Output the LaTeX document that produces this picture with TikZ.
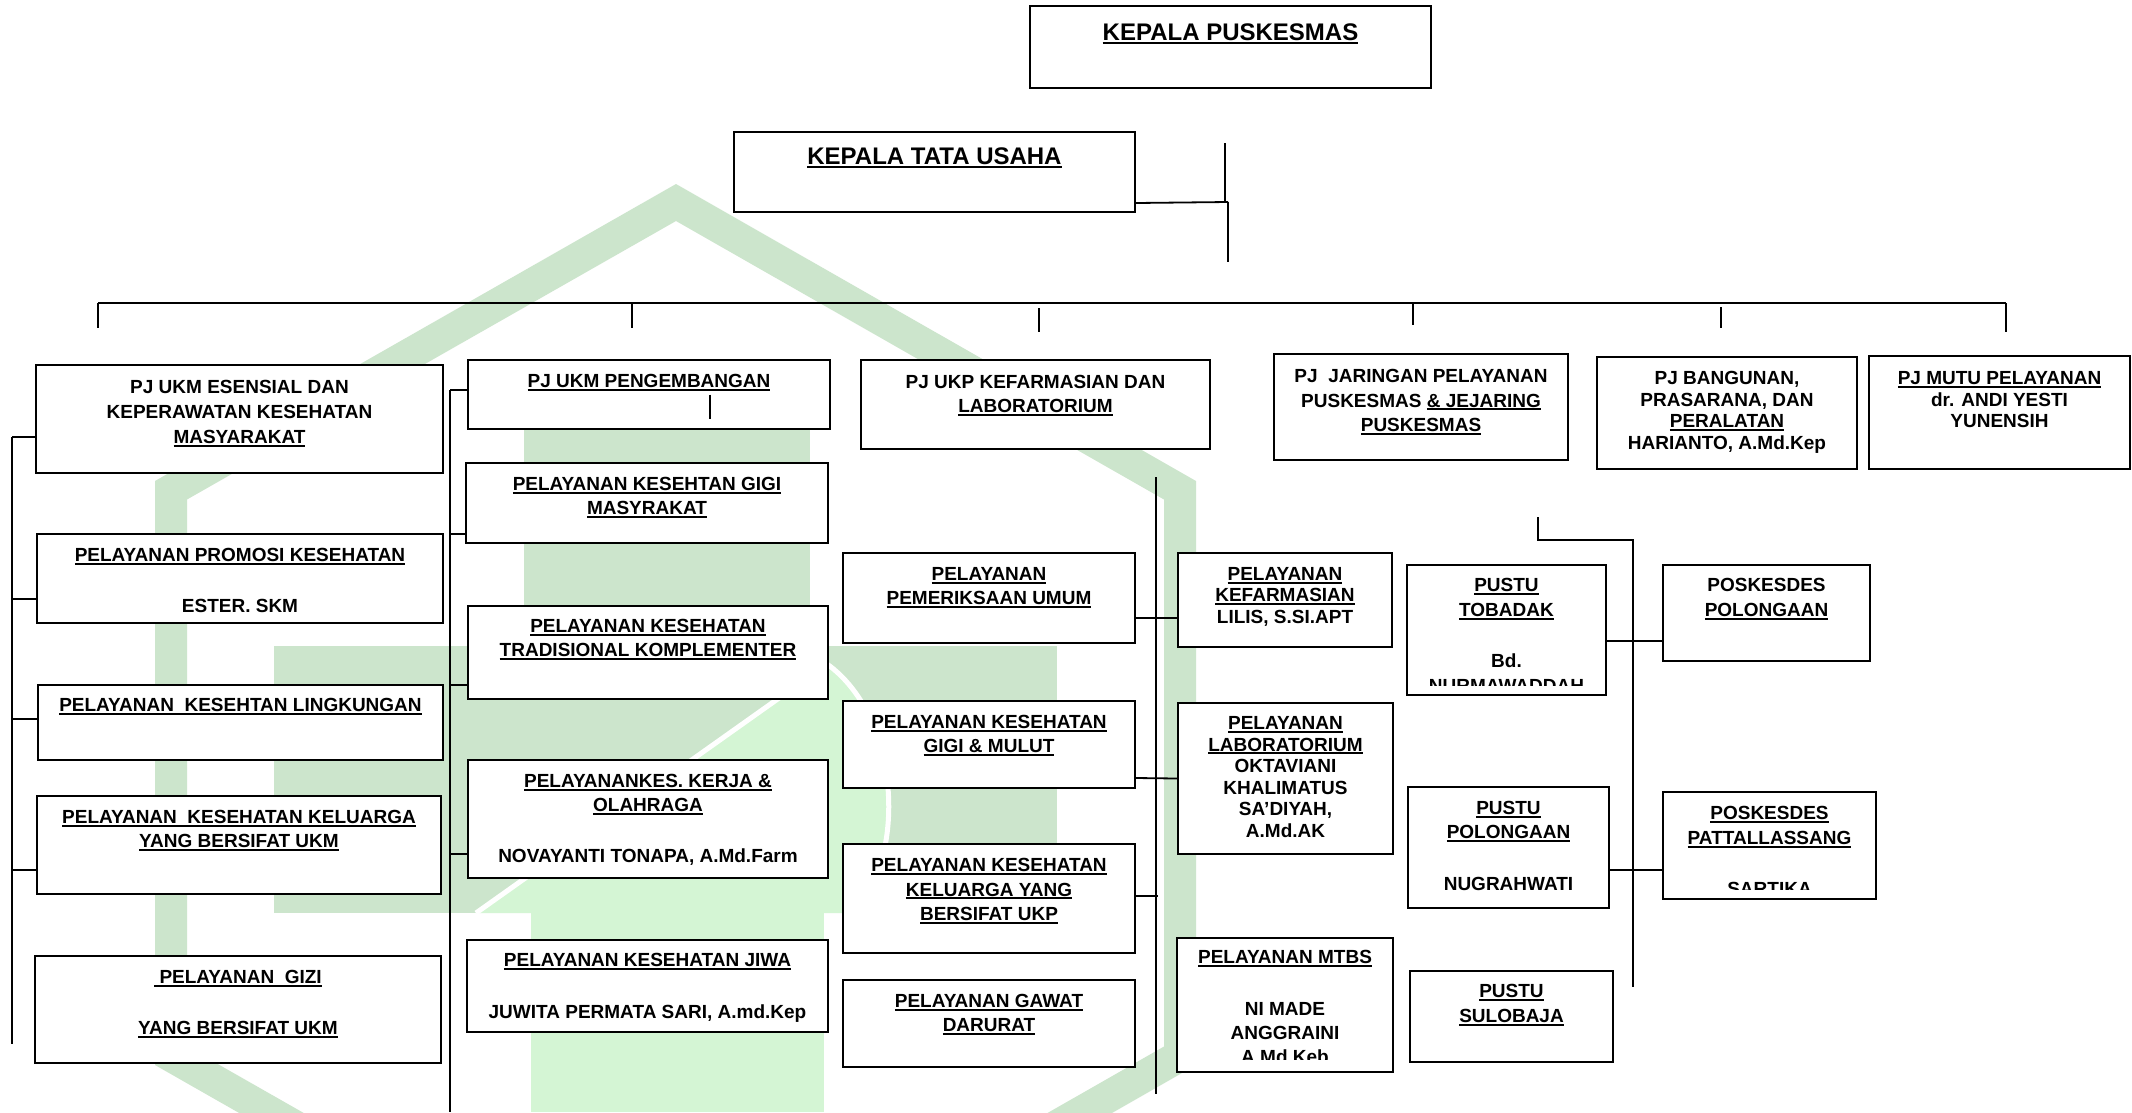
\documentclass[tikz,border=0pt]{standalone}
\usepackage{fontspec}
\setmainfont{Liberation Sans}
\usetikzlibrary{calc}

\definecolor{wmdark}{RGB}{204,229,204}
\definecolor{wmlight}{RGB}{212,245,212}

% underlined text with a fixed rule position
\newsavebox\ulbox
\newcommand\ulx[1]{\sbox\ulbox{#1}\rlap{\rule[-3.2pt]{\wd\ulbox}{2pt}}\usebox\ulbox}
\newcommand\ulT[1]{\sbox\ulbox{#1}\rlap{\rule[-4pt]{\wd\ulbox}{2.6pt}}\usebox\ulbox}

\tikzset{
  orgbox/.style={draw=black, fill=white, line width=2pt, inner sep=0pt, anchor=north west},
  lbl/.style={font=\bfseries\fontsize{19}{#1}\selectfont, align=center, inner sep=0pt,
              anchor=north, yshift=6.8pt},
  lbl/.default=24,
  title/.style={font=\bfseries\fontsize{24}{28}\selectfont, inner sep=0pt, anchor=north, yshift=8.6pt},
  wire/.style={line width=1.8pt, black},
}

% box from (x1,y1) to (x2,y2), y growing downwards
\newcommand\boxat[5]{\node[orgbox, minimum width={(#4)-(#2)}, minimum height={(#5)-(#3)}] (#1) at (#2,#3) {};}
% text block of a box, first line centred at height #3
\newcommand\boxtext[4][24]{\node[lbl=#1] (#2-t) at (#2.north |- 0,#3) {#4};}

\begin{document}
\begin{tikzpicture}[x=1pt,y=-1pt]
\useasboundingbox (0,0) rectangle (2132,1112);
\fill[white] (0,0) rectangle (2132,1112);

% ---- logo watermark ----
\begin{scope}
\clip (0,0) rectangle (2132,1112);
\fill[wmdark, even odd rule]
  (676,184) -- (1196,481) -- (1196,1065) -- (676,1362) -- (155,1065) -- (155,481) -- cycle
  (676,221) -- (1164,499.5) -- (1164,1046.5) -- (676,1325) -- (187,1046.5) -- (187,499.5) -- cycle;
\fill[wmdark] (524,380) rectangle (810,646);
\fill[wmdark] (274,646) rectangle (1057,913);
\fill[wmlight] (531,913) rectangle (824,1112);
\fill[wmlight] (476,913) -- (827,664) .. controls (905,720) and (905,870) .. (850,913) -- cycle;
\draw[white, line width=5pt] (476,913) -- (827,664) .. controls (905,720) and (905,870) .. (850,913);
\end{scope}

% ---- top ----
\boxat{kapus}{1029}{5}{1430}{87}
\node[title] (kapus-t) at (kapus.north |- 0,32) {\ulT{KEPALA PUSKESMAS}};
\boxat{ktu}{733}{131}{1134}{211}
\node[title] (ktu-t) at (ktu.north |- 0,156) {\ulT{KEPALA TATA USAHA}};

% ---- second level ----
\boxat{esensial}{35}{364}{442}{472}
\boxtext[25]{esensial}{387}{PJ UKM ESENSIAL DAN\\KEPERAWATAN KESEHATAN\\\ulx{MASYARAKAT}}
\boxat{pengembangan}{467}{359}{829}{428}
\boxtext{pengembangan}{381}{\ulx{PJ UKM PENGEMBANGAN}}
\boxat{ukp}{860}{359}{1209}{448}
\boxtext{ukp}{382}{PJ UKP KEFARMASIAN DAN\\\ulx{LABORATORIUM}}
\boxat{jaringan}{1273}{353}{1567}{459}
\boxtext[24.5]{jaringan}{376}{PJ\ \ JARINGAN PELAYANAN\\PUSKESMAS \ulx{\& JEJARING}\\\ulx{PUSKESMAS}}
\boxat{bangunan}{1596}{356}{1856}{468}
\boxtext[21.6]{bangunan}{378}{PJ BANGUNAN,\\PRASARANA, DAN\\\ulx{PERALATAN}\\HARIANTO, A.Md.Kep}
\boxat{mutu}{1868}{355}{2129}{468}
\boxtext[21.6]{mutu}{378}{\ulx{PJ MUTU PELAYANAN}\\dr. ANDI YESTI\\YUNENSIH}

% ---- UKM esensial column ----
\boxat{promosi}{36}{533}{442}{622}
\boxtext{promosi}{555}{\ulx{PELAYANAN PROMOSI KESEHATAN}\\[27pt]ESTER. SKM}
\boxat{lingkungan}{37}{684}{442}{759}
\boxtext{lingkungan}{705}{\ulx{PELAYANAN\ \ KESEHTAN LINGKUNGAN}}
\boxat{keluarga}{36}{795}{440}{893}
\boxtext{keluarga}{817}{\ulx{PELAYANAN\ \ KESEHATAN KELUARGA}\\\ulx{YANG BERSIFAT UKM}}
\boxat{gizi}{34}{955}{440}{1062}
\boxtext{gizi}{977}{\ulx{\ PELAYANAN\ \ GIZI}\\[27pt]\ulx{YANG BERSIFAT UKM}}

% ---- UKM pengembangan column ----
\boxat{gigimas}{465}{462}{827}{542}
\boxtext{gigimas}{484}{\ulx{PELAYANAN KESEHTAN GIGI}\\\ulx{MASYRAKAT}}
\boxat{tradisional}{467}{605}{827}{698}
\boxtext{tradisional}{626}{\ulx{PELAYANAN KESEHATAN}\\\ulx{TRADISIONAL KOMPLEMENTER}}
\boxat{kerja}{467}{759}{827}{877}
\boxtext{kerja}{781}{\ulx{PELAYANANKES. KERJA \&}\\\ulx{OLAHRAGA}\\[27pt]NOVAYANTI TONAPA, A.Md.Farm}
\boxat{jiwa}{466}{939}{827}{1031}
\boxtext{jiwa}{960}{\ulx{PELAYANAN KESEHATAN JIWA}\\[28pt]JUWITA PERMATA SARI, A.md.Kep}

% ---- UKP column ----
\boxat{umum}{842}{552}{1134}{642}
\boxtext{umum}{574}{\ulx{PELAYANAN}\\\ulx{PEMERIKSAAN UMUM}}
\boxat{gigimulut}{842}{700}{1134}{787}
\boxtext{gigimulut}{722}{\ulx{PELAYANAN KESEHATAN}\\\ulx{GIGI \& MULUT}}
\boxat{keluargaukp}{842}{843}{1134}{952}
\boxtext[24.5]{keluargaukp}{865}{\ulx{PELAYANAN KESEHATAN}\\\ulx{KELUARGA YANG}\\\ulx{BERSIFAT UKP}}
\boxat{gawat}{842}{979}{1134}{1066}
\boxtext{gawat}{1001}{\ulx{PELAYANAN GAWAT}\\\ulx{DARURAT}}

\boxat{farmasi}{1177}{552}{1391}{646}
\boxtext[21.5]{farmasi}{574}{\ulx{PELAYANAN}\\\ulx{KEFARMASIAN}\\LILIS, S.SI.APT}
\boxat{lab}{1177}{702}{1392}{853}
\boxtext[21.6]{lab}{723}{\ulx{PELAYANAN}\\\ulx{LABORATORIUM}\\OKTAVIANI\\KHALIMATUS\\SA’DIYAH,\\A.Md.AK}
\boxat{mtbs}{1176}{937}{1392}{1071}
\begin{scope}
\clip (mtbs.north west) rectangle ([yshift=14pt]mtbs.south east);
\boxtext{mtbs}{957}{\ulx{PELAYANAN MTBS}\\[28pt]NI MADE\\ANGGRAINI\\A.Md.Keb}
\end{scope}

% ---- network column ----
\boxat{tobadak}{1406}{564}{1605}{694}
\begin{scope}
\clip (tobadak.north west) rectangle ([yshift=11pt]tobadak.south east);
\boxtext[25]{tobadak}{585}{\ulx{PUSTU}\\\ulx{TOBADAK}\\[26pt]Bd.\\NURMAWADDAH}
\end{scope}
\boxat{poskpol}{1662}{564}{1869}{660}
\boxtext[25]{poskpol}{585}{POSKESDES\\\ulx{POLONGAAN}}
\boxat{pustupol}{1407}{786}{1608}{907}
\boxtext{pustupol}{808}{\ulx{PUSTU}\\\ulx{POLONGAAN}\\[28pt]NUGRAHWATI}
\boxat{pattal}{1662}{791}{1875}{898}
\begin{scope}
\clip (pattal.north west) rectangle ([yshift=11pt]pattal.south east);
\boxtext[25]{pattal}{813}{\ulx{POSKESDES}\\\ulx{PATTALLASSANG}\\[26pt]SARTIKA}
\end{scope}
\boxat{sulobaja}{1409}{970}{1612}{1061}
\boxtext[25]{sulobaja}{991}{\ulx{PUSTU}\\\ulx{SULOBAJA}}

% ---- connectors ----
% tata usaha link
\coordinate (tuA) at (1225,143);
\coordinate (tuJ) at (1228,202);
\coordinate (tuB) at (1228,262);
\draw[wire] ([yshift=-31pt]ktu.east) -- (tuJ);
\draw[wire] (tuA) -- (tuA |- tuJ);
\draw[wire] (tuJ) -- (tuB);

% main bus and its drops
\coordinate (busL) at (98,303);
\coordinate (busR) at (2006,303);
\draw[wire] (busL) -- (busR);
\coordinate (dropA) at (98,328);
\coordinate (dropB) at (632,328);
\coordinate (dropC) at (1039,332);
\coordinate (dropD) at (1413,325);
\coordinate (dropE) at (1721,328);
\coordinate (dropF) at (2006,332);
\draw[wire] (dropA |- busL) -- (dropA);
\draw[wire] (dropB |- busL) -- (dropB);
\draw[wire] ([yshift=-5pt]dropC |- busL) -- (dropC);
\draw[wire] (dropD |- busL) -- (dropD);
\draw[wire] ([yshift=-4pt]dropE |- busL) -- (dropE);
\draw[wire] (dropF |- busL) -- (dropF);

% mark inside the pengembangan box
\draw[wire] ([xshift=61pt]pengembangan.center) -- ++(0,24);

% UKM esensial trunk
\coordinate (c1top) at (12,437);
\coordinate (c1bot) at (12,1044);
\draw[wire] (c1top) -- (c1bot);
\draw[wire] (c1top) -- (c1top -| esensial.west);
\draw[wire] ([yshift=-20.5pt]promosi.west) -- +(-24,0);
\draw[wire] ([yshift=3.5pt]lingkungan.west) -- +(-25,0);
\draw[wire] ([yshift=-25pt]keluarga.west) -- +(-24,0);

% UKM pengembangan trunk
\coordinate (c2top) at (450,390);
\coordinate (c2bot) at (450,1112);
\draw[wire] (c2top) -- (c2bot);
\draw[wire] (c2top) -- (c2top -| pengembangan.west);
\draw[wire] ([yshift=-31pt]gigimas.west) -- +(-15,0);
\draw[wire] ([yshift=-32.5pt]tradisional.west) -- +(-17,0);
\draw[wire] ([yshift=-35pt]kerja.west) -- +(-17,0);

% UKP trunk
\coordinate (c3top) at (1156,477);
\coordinate (c3bot) at (1156,1094);
\draw[wire] (c3top) -- (c3bot);
\draw[wire] ([yshift=-20pt]umum.east) -- ([yshift=-18pt]farmasi.west);
\draw[wire] ([yshift=-33.5pt]gigimulut.east) -- (lab.west);
\draw[wire] ([yshift=2.5pt]keluargaukp.east) -- +(22,0);

% network trunk
\coordinate (c4a) at (1538,517);
\coordinate (c4b) at (1633,540);
\coordinate (c4bot) at (1633,987);
\draw[wire] (c4a) |- (c4b) -- (c4bot);
\draw[wire] ([yshift=-11pt]tobadak.east) -- ([yshift=-28pt]poskpol.west);
\draw[wire] ([yshift=-22.5pt]pustupol.east) -- ([yshift=-24.5pt]pattal.west);
\end{tikzpicture}
\end{document}
